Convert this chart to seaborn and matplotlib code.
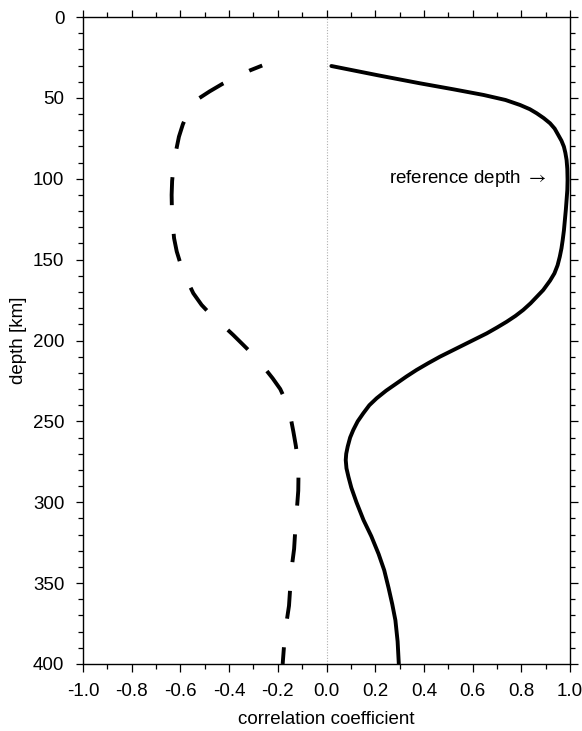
import numpy as np
import pandas as pd
import matplotlib
matplotlib.use("Agg")
import matplotlib.pyplot as plt
import seaborn as sns
from matplotlib.ticker import MultipleLocator, FormatStrFormatter

# ---- data ----
depth_solid = [30.3, 33, 36, 41, 44.7, 48.2, 51.3, 54.4, 57, 59.5, 62.5, 65.7, 69, 73,
               76.5, 80.2, 84, 88.4, 94, 100.8, 107, 113, 119, 125.5, 132, 137.9, 143,
               148.2, 153.5, 158.5, 163, 168.8, 172.9, 177, 181.1, 184.8, 188.4, 192,
               195.6, 199.2, 202.8, 206.4, 210, 214, 218.2, 222.3, 226.5, 231, 235.7,
               240, 245, 250, 255.3, 260, 265.6, 270, 273.9, 279, 284.2, 291, 300, 311,
               321, 332, 342, 353, 363, 373, 386, 400]
corr_solid = [0.02, 0.11, 0.21, 0.384, 0.521, 0.645, 0.735, 0.795, 0.835, 0.863, 0.892,
              0.918, 0.937, 0.952, 0.965, 0.975, 0.981, 0.986, 0.989, 0.99, 0.989,
              0.986, 0.983, 0.979, 0.975, 0.97, 0.965, 0.958, 0.949, 0.936, 0.918, 0.89,
              0.864, 0.838, 0.808, 0.776, 0.74, 0.70, 0.658, 0.61, 0.562, 0.514, 0.466,
              0.418, 0.37, 0.328, 0.288, 0.245, 0.206, 0.176, 0.151, 0.128, 0.11,
              0.097, 0.087, 0.081, 0.079, 0.082, 0.09, 0.102, 0.123, 0.152, 0.184,
              0.214, 0.237, 0.255, 0.27, 0.283, 0.292, 0.297]

depth_dashed = [30, 33, 37, 41.4, 46, 50.3, 55, 60, 66.4, 74, 82.8, 92, 101.4, 110,
                118.3, 127, 136.8, 145, 153.3, 162, 170.8, 178, 184.2, 190, 196.6, 203,
                209, 216, 223.4, 230, 237.8, 247, 256.4, 265, 273.7, 283, 292.9, 301,
                309.6, 319, 328.8, 337, 345.5, 355, 364, 372, 381, 390, 400]
corr_dashed = [-0.264, -0.314, -0.37, -0.428, -0.48, -0.524, -0.553, -0.572, -0.59,
               -0.606, -0.618, -0.628, -0.634, -0.636, -0.635, -0.632, -0.626, -0.615,
               -0.598, -0.575, -0.547, -0.513, -0.474, -0.43, -0.383, -0.34, -0.30,
               -0.26, -0.221, -0.19, -0.166, -0.148, -0.136, -0.126, -0.118, -0.115,
               -0.116, -0.12, -0.125, -0.129, -0.133, -0.14, -0.146, -0.15, -0.154,
               -0.162, -0.170, -0.175, -0.18]

x_ticks = [-1.0, -0.8, -0.6, -0.4, -0.2, 0.0, 0.2, 0.4, 0.6, 0.8, 1.0]
y_ticks = [0, 50, 100, 150, 200, 250, 300, 350, 400]
annotation_text = "reference depth $\\rightarrow$"
annotation_depth = 100
annotation_corr = 0.905

# ---- style ----
sns.set_style("ticks")
plt.rcParams['font.family'] = ['Liberation Sans', 'DejaVu Sans']
plt.rcParams['mathtext.fontset'] = 'stixsans'
plt.rcParams['text.color'] = 'black'
plt.rcParams['axes.labelcolor'] = 'black'
plt.rcParams['xtick.color'] = 'black'
plt.rcParams['ytick.color'] = 'black'

fig = plt.figure(figsize=(5.82, 7.31), dpi=100)
ax = fig.add_axes([83/582, 1 - 664/731, (570-83)/582, (664-17)/731])

df_solid = pd.DataFrame({"corr": corr_solid, "depth": depth_solid})
df_dashed = pd.DataFrame({"corr": corr_dashed, "depth": depth_dashed})

ax.axvline(0, color="#b0b0b0", lw=0.8, ls=(0, (1, 1.5)), zorder=1)

sns.lineplot(data=df_solid, x="corr", y="depth", sort=False, estimator=None,
             color="black", lw=2.8, ax=ax, zorder=3)
sns.lineplot(data=df_dashed, x="corr", y="depth", sort=False, estimator=None,
             color="black", lw=2.8, ax=ax, zorder=3)
for ln in ax.lines[-2:]:
    ln.set_solid_joinstyle("round")
    ln.set_dash_joinstyle("round")
ax.lines[-1].set_linestyle((3.6, (7.2, 7.4)))
ax.lines[-1].set_dash_capstyle("butt")

ax.set_xlim(-1.0, 1.0)
ax.set_ylim(400, 0)
ax.set_xticks(x_ticks)
ax.set_yticks(y_ticks)
ax.xaxis.set_major_formatter(FormatStrFormatter("%.1f"))
ax.xaxis.set_minor_locator(MultipleLocator(0.1))
ax.yaxis.set_minor_locator(MultipleLocator(10))

ax.tick_params(which="both", direction="out", top=True, right=True,
               labeltop=False, labelright=False, color="black", width=0.9)
ax.tick_params(which="major", length=5.4, labelsize=13.5)
ax.tick_params(axis="x", which="major", pad=8.5)
ax.tick_params(axis="y", which="major", pad=8)
ax.tick_params(which="minor", length=3.6)
for s in ax.spines.values():
    s.set_linewidth(1.0)
    s.set_color("black")

ax.set_xlabel("correlation coefficient", fontsize=13.5, labelpad=7.5)
ax.set_ylabel("depth [km]", fontsize=13.5, labelpad=4)

ax.text(annotation_corr, annotation_depth, annotation_text, ha="right", va="center",
        fontsize=13.5)

fig.savefig("out.png", dpi=100)
